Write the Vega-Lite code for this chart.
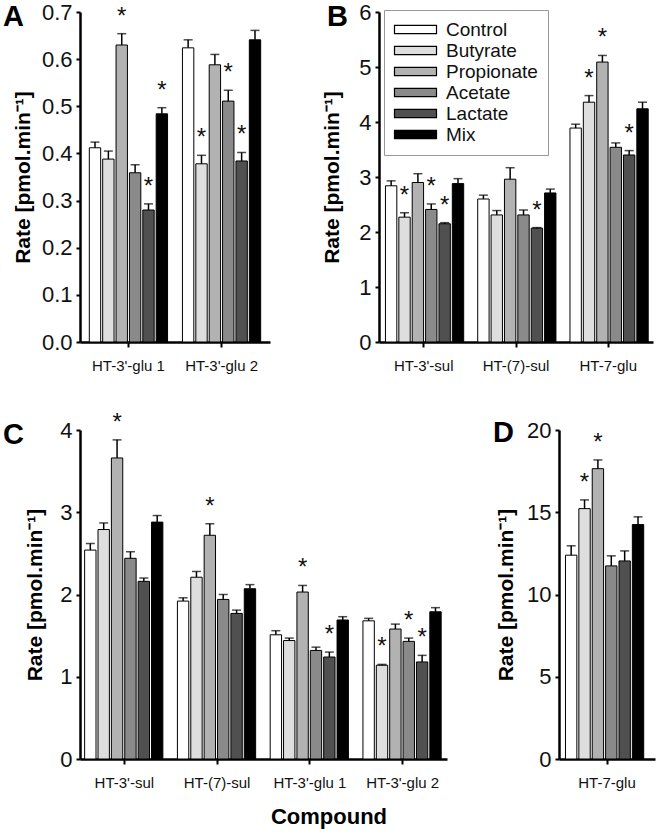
{
  "$schema": "https://vega.github.io/schema/vega-lite/v6.json",
  "autosize": {"type": "pad"},
  "padding": {"left": 3, "top": 1, "right": 4, "bottom": 4},
  "background": "white",
  "config": {
    "view": {"stroke": null},
    "font": "Liberation Sans",
    "axis": {
      "domainColor": "black", "domainWidth": 2.5, "tickColor": "black", "tickWidth": 2,
      "labelColor": "#111", "labelFont": "Liberation Sans", "grid": false,
      "titleFont": "Liberation Sans", "titleColor": "black"
    },
    "axisX": {"labelFontSize": 15, "tickSize": 5, "labelPadding": 11, "labelAngle": 0, "title": null},
    "axisY": {"labelFontSize": 22, "tickSize": 4, "labelPadding": 4, "titleFontSize": 21, "titleFontWeight": "bold"},
    "title": {"font": "Liberation Sans", "color": "black"}
  },
  "data": {"values": [
    {"panel": "A", "compound": "HT-3'-glu 1", "treatment": "Control", "value": 0.412, "hi": 0.424, "sig": false},
    {"panel": "A", "compound": "HT-3'-glu 1", "treatment": "Butyrate", "value": 0.388, "hi": 0.405, "sig": false},
    {"panel": "A", "compound": "HT-3'-glu 1", "treatment": "Propionate", "value": 0.630, "hi": 0.654, "sig": true},
    {"panel": "A", "compound": "HT-3'-glu 1", "treatment": "Acetate", "value": 0.359, "hi": 0.376, "sig": false},
    {"panel": "A", "compound": "HT-3'-glu 1", "treatment": "Lactate", "value": 0.280, "hi": 0.293, "sig": true},
    {"panel": "A", "compound": "HT-3'-glu 1", "treatment": "Mix", "value": 0.484, "hi": 0.497, "sig": true},
    {"panel": "A", "compound": "HT-3'-glu 2", "treatment": "Control", "value": 0.624, "hi": 0.641, "sig": false},
    {"panel": "A", "compound": "HT-3'-glu 2", "treatment": "Butyrate", "value": 0.378, "hi": 0.396, "sig": true},
    {"panel": "A", "compound": "HT-3'-glu 2", "treatment": "Propionate", "value": 0.588, "hi": 0.610, "sig": false},
    {"panel": "A", "compound": "HT-3'-glu 2", "treatment": "Acetate", "value": 0.511, "hi": 0.534, "sig": true},
    {"panel": "A", "compound": "HT-3'-glu 2", "treatment": "Lactate", "value": 0.384, "hi": 0.402, "sig": true},
    {"panel": "A", "compound": "HT-3'-glu 2", "treatment": "Mix", "value": 0.641, "hi": 0.661, "sig": false},

    {"panel": "B", "compound": "HT-3'-sul", "treatment": "Control", "value": 2.84, "hi": 2.93, "sig": false},
    {"panel": "B", "compound": "HT-3'-sul", "treatment": "Butyrate", "value": 2.27, "hi": 2.35, "sig": true},
    {"panel": "B", "compound": "HT-3'-sul", "treatment": "Propionate", "value": 2.90, "hi": 3.06, "sig": false},
    {"panel": "B", "compound": "HT-3'-sul", "treatment": "Acetate", "value": 2.41, "hi": 2.51, "sig": true},
    {"panel": "B", "compound": "HT-3'-sul", "treatment": "Lactate", "value": 2.15, "hi": 2.17, "sig": true},
    {"panel": "B", "compound": "HT-3'-sul", "treatment": "Mix", "value": 2.88, "hi": 2.97, "sig": false},
    {"panel": "B", "compound": "HT-(7)-sul", "treatment": "Control", "value": 2.60, "hi": 2.67, "sig": false},
    {"panel": "B", "compound": "HT-(7)-sul", "treatment": "Butyrate", "value": 2.31, "hi": 2.39, "sig": false},
    {"panel": "B", "compound": "HT-(7)-sul", "treatment": "Propionate", "value": 2.96, "hi": 3.17, "sig": false},
    {"panel": "B", "compound": "HT-(7)-sul", "treatment": "Acetate", "value": 2.31, "hi": 2.40, "sig": false},
    {"panel": "B", "compound": "HT-(7)-sul", "treatment": "Lactate", "value": 2.07, "hi": 2.08, "sig": true},
    {"panel": "B", "compound": "HT-(7)-sul", "treatment": "Mix", "value": 2.71, "hi": 2.78, "sig": false},
    {"panel": "B", "compound": "HT-7-glu", "treatment": "Control", "value": 3.89, "hi": 3.96, "sig": false},
    {"panel": "B", "compound": "HT-7-glu", "treatment": "Butyrate", "value": 4.36, "hi": 4.48, "sig": true},
    {"panel": "B", "compound": "HT-7-glu", "treatment": "Propionate", "value": 5.09, "hi": 5.21, "sig": true},
    {"panel": "B", "compound": "HT-7-glu", "treatment": "Acetate", "value": 3.54, "hi": 3.62, "sig": false},
    {"panel": "B", "compound": "HT-7-glu", "treatment": "Lactate", "value": 3.40, "hi": 3.48, "sig": true},
    {"panel": "B", "compound": "HT-7-glu", "treatment": "Mix", "value": 4.24, "hi": 4.36, "sig": false},

    {"panel": "C", "compound": "HT-3'-sul", "treatment": "Control", "value": 2.54, "hi": 2.62, "sig": false},
    {"panel": "C", "compound": "HT-3'-sul", "treatment": "Butyrate", "value": 2.79, "hi": 2.87, "sig": false},
    {"panel": "C", "compound": "HT-3'-sul", "treatment": "Propionate", "value": 3.66, "hi": 3.88, "sig": true},
    {"panel": "C", "compound": "HT-3'-sul", "treatment": "Acetate", "value": 2.44, "hi": 2.52, "sig": false},
    {"panel": "C", "compound": "HT-3'-sul", "treatment": "Lactate", "value": 2.16, "hi": 2.20, "sig": false},
    {"panel": "C", "compound": "HT-3'-sul", "treatment": "Mix", "value": 2.88, "hi": 2.96, "sig": false},
    {"panel": "C", "compound": "HT-(7)-sul", "treatment": "Control", "value": 1.92, "hi": 1.96, "sig": false},
    {"panel": "C", "compound": "HT-(7)-sul", "treatment": "Butyrate", "value": 2.21, "hi": 2.28, "sig": false},
    {"panel": "C", "compound": "HT-(7)-sul", "treatment": "Propionate", "value": 2.72, "hi": 2.86, "sig": true},
    {"panel": "C", "compound": "HT-(7)-sul", "treatment": "Acetate", "value": 1.94, "hi": 2.00, "sig": false},
    {"panel": "C", "compound": "HT-(7)-sul", "treatment": "Lactate", "value": 1.77, "hi": 1.81, "sig": false},
    {"panel": "C", "compound": "HT-(7)-sul", "treatment": "Mix", "value": 2.07, "hi": 2.12, "sig": false},
    {"panel": "C", "compound": "HT-3'-glu 1", "treatment": "Control", "value": 1.51, "hi": 1.56, "sig": false},
    {"panel": "C", "compound": "HT-3'-glu 1", "treatment": "Butyrate", "value": 1.44, "hi": 1.47, "sig": false},
    {"panel": "C", "compound": "HT-3'-glu 1", "treatment": "Propionate", "value": 2.03, "hi": 2.11, "sig": true},
    {"panel": "C", "compound": "HT-3'-glu 1", "treatment": "Acetate", "value": 1.32, "hi": 1.36, "sig": false},
    {"panel": "C", "compound": "HT-3'-glu 1", "treatment": "Lactate", "value": 1.24, "hi": 1.30, "sig": true},
    {"panel": "C", "compound": "HT-3'-glu 1", "treatment": "Mix", "value": 1.69, "hi": 1.73, "sig": false},
    {"panel": "C", "compound": "HT-3'-glu 2", "treatment": "Control", "value": 1.68, "hi": 1.71, "sig": false},
    {"panel": "C", "compound": "HT-3'-glu 2", "treatment": "Butyrate", "value": 1.14, "hi": 1.15, "sig": true},
    {"panel": "C", "compound": "HT-3'-glu 2", "treatment": "Propionate", "value": 1.58, "hi": 1.64, "sig": false},
    {"panel": "C", "compound": "HT-3'-glu 2", "treatment": "Acetate", "value": 1.43, "hi": 1.47, "sig": true},
    {"panel": "C", "compound": "HT-3'-glu 2", "treatment": "Lactate", "value": 1.18, "hi": 1.26, "sig": true},
    {"panel": "C", "compound": "HT-3'-glu 2", "treatment": "Mix", "value": 1.79, "hi": 1.84, "sig": false},

    {"panel": "D", "compound": "HT-7-glu", "treatment": "Control", "value": 12.39, "hi": 12.96, "sig": false},
    {"panel": "D", "compound": "HT-7-glu", "treatment": "Butyrate", "value": 15.22, "hi": 15.75, "sig": true},
    {"panel": "D", "compound": "HT-7-glu", "treatment": "Propionate", "value": 17.65, "hi": 18.18, "sig": true},
    {"panel": "D", "compound": "HT-7-glu", "treatment": "Acetate", "value": 11.74, "hi": 12.35, "sig": false},
    {"panel": "D", "compound": "HT-7-glu", "treatment": "Lactate", "value": 12.04, "hi": 12.65, "sig": false},
    {"panel": "D", "compound": "HT-7-glu", "treatment": "Mix", "value": 14.25, "hi": 14.72, "sig": false}
  ]},
  "title": {"text": "Compound", "orient": "bottom", "anchor": "middle", "fontSize": 22, "fontWeight": "bold", "offset": 17},
  "spacing": 37,
  "resolve": {"scale": {"fill": "independent"}, "legend": {"fill": "independent"}},
  "vconcat": [
    {
      "hconcat": [
        {
          "width": 190, "height": 330,
          "title": {"text": "A", "anchor": "start", "frame": "group", "fontSize": 29, "fontWeight": "bold", "baseline": "alphabetic", "offset": -37, "dx": -77, "dy": 17},
          "transform": [{"filter": "datum.panel === 'A'"}],
          "encoding": {
            "x": {"field": "compound", "type": "nominal", "sort": ["HT-3'-glu 1", "HT-3'-glu 2"], "scale": {"paddingInner": 0.16, "paddingOuter": 0.1}},
            "xOffset": {"field": "treatment", "type": "nominal", "sort": ["Control", "Butyrate", "Propionate", "Acetate", "Lactate", "Mix"], "scale": {"paddingInner": 0.15, "paddingOuter": 0}}
          },
          "layer": [
            {"mark": {"type": "bar", "stroke": "black", "strokeWidth": 1},
             "encoding": {
               "y": {"field": "value", "type": "quantitative", "title": "Rate [pmol.min⁻¹]", "scale": {"domain": [0, 0.7], "nice": false}, "axis": {"values": [0, 0.1, 0.2, 0.3, 0.4, 0.5, 0.6, 0.7], "format": ".1f", "titlePadding": 8}},
               "fill": {"field": "treatment", "type": "nominal", "scale": {"domain": ["Control", "Butyrate", "Propionate", "Acetate", "Lactate", "Mix"], "range": ["#ffffff", "#dedede", "#b2b2b2", "#8a8a8a", "#505050", "#000000"]}, "legend": null}
             }},
            {"mark": {"type": "rule", "color": "black", "strokeWidth": 1.5},
             "encoding": {"y": {"field": "value", "type": "quantitative", "title": "Rate [pmol.min⁻¹]"}, "y2": {"field": "hi"}}},
            {"mark": {"type": "tick", "color": "black", "size": 9, "thickness": 1.5},
             "encoding": {"y": {"field": "hi", "type": "quantitative", "title": "Rate [pmol.min⁻¹]"}}},
            {"transform": [{"filter": "datum.sig"}],
             "mark": {"type": "text", "text": "*", "fontSize": 24, "dy": -10, "baseline": "alphabetic", "color": "#111"},
             "encoding": {"y": {"field": "hi", "type": "quantitative", "title": "Rate [pmol.min⁻¹]"}}}
          ]
        },
        {
          "width": 274, "height": 330,
          "title": {"text": "B", "anchor": "start", "frame": "group", "fontSize": 29, "fontWeight": "bold", "baseline": "alphabetic", "offset": -37, "dx": -52, "dy": 17},
          "transform": [{"filter": "datum.panel === 'B'"}],
          "encoding": {
            "x": {"field": "compound", "type": "nominal", "sort": ["HT-3'-sul", "HT-(7)-sul", "HT-7-glu"], "scale": {"paddingInner": 0.17, "paddingOuter": 0.07}},
            "xOffset": {"field": "treatment", "type": "nominal", "sort": ["Control", "Butyrate", "Propionate", "Acetate", "Lactate", "Mix"], "scale": {"paddingInner": 0.15, "paddingOuter": 0}}
          },
          "layer": [
            {"mark": {"type": "bar", "stroke": "black", "strokeWidth": 1},
             "encoding": {
               "y": {"field": "value", "type": "quantitative", "title": "Rate [pmol.min⁻¹]", "scale": {"domain": [0, 6], "nice": false}, "axis": {"values": [0, 1, 2, 3, 4, 5, 6], "format": "d", "titlePadding": 16}},
               "fill": {"field": "treatment", "type": "nominal", "scale": {"domain": ["Control", "Butyrate", "Propionate", "Acetate", "Lactate", "Mix"], "range": ["#ffffff", "#dedede", "#b2b2b2", "#8a8a8a", "#505050", "#000000"]},
                 "legend": {"title": null, "orient": "none", "legendX": 5, "legendY": -2, "padding": 10, "strokeColor": "#999", "fillColor": "white",
                   "symbolType": "M-5,-1H5V1H-5Z", "symbolSize": 70.6, "symbolOffset": 12, "symbolStrokeColor": "black", "symbolStrokeWidth": 1.2, "symbolOpacity": 1,
                   "labelFontSize": 19, "labelColor": "#111", "labelFont": "Liberation Sans", "labelOffset": 21, "rowPadding": 1}}
             }},
            {"mark": {"type": "rule", "color": "black", "strokeWidth": 1.5},
             "encoding": {"y": {"field": "value", "type": "quantitative", "title": "Rate [pmol.min⁻¹]"}, "y2": {"field": "hi"}}},
            {"mark": {"type": "tick", "color": "black", "size": 9, "thickness": 1.5},
             "encoding": {"y": {"field": "hi", "type": "quantitative", "title": "Rate [pmol.min⁻¹]"}}},
            {"transform": [{"filter": "datum.sig"}],
             "mark": {"type": "text", "text": "*", "fontSize": 24, "dy": -10, "baseline": "alphabetic", "color": "#111"},
             "encoding": {"y": {"field": "hi", "type": "quantitative", "title": "Rate [pmol.min⁻¹]"}}}
          ]
        }
      ],
      "spacing": 109,
      "bounds": "flush",
      "resolve": {"scale": {"fill": "independent"}, "legend": {"fill": "independent"}}
    },
    {
      "hconcat": [
        {
          "width": 367, "height": 329,
          "title": {"text": "C", "anchor": "start", "frame": "group", "fontSize": 29, "fontWeight": "bold", "baseline": "alphabetic", "offset": -37, "dx": -77, "dy": 25},
          "transform": [{"filter": "datum.panel === 'C'"}],
          "encoding": {
            "x": {"field": "compound", "type": "nominal", "sort": ["HT-3'-sul", "HT-(7)-sul", "HT-3'-glu 1", "HT-3'-glu 2"], "scale": {"paddingInner": 0.144, "paddingOuter": 0.05}},
            "xOffset": {"field": "treatment", "type": "nominal", "sort": ["Control", "Butyrate", "Propionate", "Acetate", "Lactate", "Mix"], "scale": {"paddingInner": 0.15, "paddingOuter": 0}}
          },
          "layer": [
            {"mark": {"type": "bar", "stroke": "black", "strokeWidth": 1},
             "encoding": {
               "y": {"field": "value", "type": "quantitative", "title": "Rate [pmol.min⁻¹]", "scale": {"domain": [0, 4], "nice": false}, "axis": {"values": [0, 1, 2, 3, 4], "format": "d", "titlePadding": 14}},
               "fill": {"field": "treatment", "type": "nominal", "scale": {"domain": ["Control", "Butyrate", "Propionate", "Acetate", "Lactate", "Mix"], "range": ["#ffffff", "#dedede", "#b2b2b2", "#8a8a8a", "#505050", "#000000"]}, "legend": null}
             }},
            {"mark": {"type": "rule", "color": "black", "strokeWidth": 1.5},
             "encoding": {"y": {"field": "value", "type": "quantitative", "title": "Rate [pmol.min⁻¹]"}, "y2": {"field": "hi"}}},
            {"mark": {"type": "tick", "color": "black", "size": 9, "thickness": 1.5},
             "encoding": {"y": {"field": "hi", "type": "quantitative", "title": "Rate [pmol.min⁻¹]"}}},
            {"transform": [{"filter": "datum.sig"}],
             "mark": {"type": "text", "text": "*", "fontSize": 24, "dy": -10, "baseline": "alphabetic", "color": "#111"},
             "encoding": {"y": {"field": "hi", "type": "quantitative", "title": "Rate [pmol.min⁻¹]"}}}
          ]
        },
        {
          "width": 96, "height": 329,
          "title": {"text": "D", "anchor": "start", "frame": "group", "fontSize": 29, "fontWeight": "bold", "baseline": "alphabetic", "offset": -37, "dx": -66, "dy": 15},
          "transform": [{"filter": "datum.panel === 'D'"}],
          "encoding": {
            "x": {"field": "compound", "type": "nominal", "scale": {"paddingInner": 0, "paddingOuter": 0.078}},
            "xOffset": {"field": "treatment", "type": "nominal", "sort": ["Control", "Butyrate", "Propionate", "Acetate", "Lactate", "Mix"], "scale": {"paddingInner": 0.15, "paddingOuter": 0}}
          },
          "layer": [
            {"mark": {"type": "bar", "stroke": "black", "strokeWidth": 1},
             "encoding": {
               "y": {"field": "value", "type": "quantitative", "title": "Rate [pmol.min⁻¹]", "scale": {"domain": [0, 20], "nice": false}, "axis": {"values": [0, 5, 10, 15, 20], "format": "d", "titlePadding": 10}},
               "fill": {"field": "treatment", "type": "nominal", "scale": {"domain": ["Control", "Butyrate", "Propionate", "Acetate", "Lactate", "Mix"], "range": ["#ffffff", "#dedede", "#b2b2b2", "#8a8a8a", "#505050", "#000000"]}, "legend": null}
             }},
            {"mark": {"type": "rule", "color": "black", "strokeWidth": 1.5},
             "encoding": {"y": {"field": "value", "type": "quantitative", "title": "Rate [pmol.min⁻¹]"}, "y2": {"field": "hi"}}},
            {"mark": {"type": "tick", "color": "black", "size": 9, "thickness": 1.5},
             "encoding": {"y": {"field": "hi", "type": "quantitative", "title": "Rate [pmol.min⁻¹]"}}},
            {"transform": [{"filter": "datum.sig"}],
             "mark": {"type": "text", "text": "*", "fontSize": 24, "dy": -10, "baseline": "alphabetic", "color": "#111"},
             "encoding": {"y": {"field": "hi", "type": "quantitative", "title": "Rate [pmol.min⁻¹]"}}}
          ]
        }
      ],
      "spacing": 112,
      "bounds": "flush",
      "resolve": {"scale": {"fill": "independent"}, "legend": {"fill": "independent"}}
    }
  ]
}
